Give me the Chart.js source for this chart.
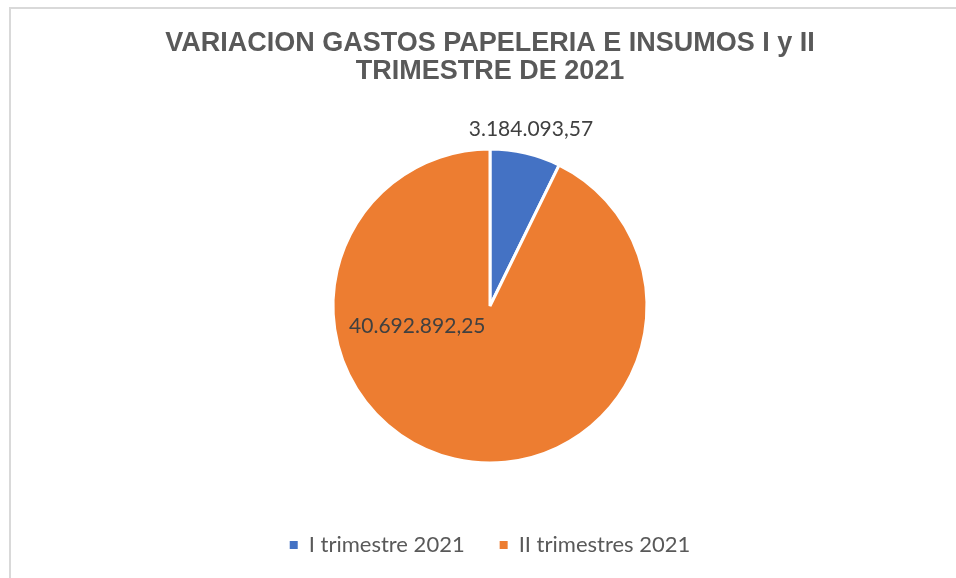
<!DOCTYPE html>
<html>
<head>
<meta charset="utf-8">
<title>Variacion gastos papeleria</title>
<script src="https://cdn.jsdelivr.net/npm/chart.js@4/dist/chart.umd.min.js"></script>
<style>
  body { margin: 0; overflow: hidden; background: #fff; }
  #marco {
    position: absolute; left: 9px; top: 7px; width: 1000px; height: 640px;
    border: 2px solid #d9d9d9; box-sizing: border-box;
  }
  #contenedor { position: absolute; left: 0; top: 0; width: 956px; height: 578px; }
</style>
</head>
<body>
<div id="marco"></div>
<div id="contenedor"><canvas id="GraphGastos"></canvas></div>
<script>
var titulo = ["VARIACION GASTOS PAPELERIA E INSUMOS I y II", "TRIMESTRE DE 2021"];
var trimestres = ["I trimestre 2021", "II trimestres 2021"];
var gastos = [3184093.57, 40692892.25];
var colores = ["#4472C4", "#ED7D31"];

function formatoPesos(valor) {
  var partes = valor.toFixed(2).split(".");
  var entero = partes[0].replace(/\B(?=(\d{3})+(?!\d))/g, ".");
  return entero + "," + partes[1];
}

// etiquetas de datos como las de excel
var etiquetasPlugin = {
  id: "etiquetas",
  afterDatasetsDraw: function (chart) {
    var ctx = chart.ctx;
    var meta = chart.getDatasetMeta(0);
    ctx.save();
    ctx.font = "21px Lato";
    ctx.fillStyle = "#404040";
    ctx.textAlign = "center";
    ctx.textBaseline = "middle";
    meta.data.forEach(function (arco, i) {
      var p = arco.getProps(["x", "y", "startAngle", "endAngle", "outerRadius"], true);
      var medio = (p.startAngle + p.endAngle) / 2;
      var x, y;
      if (p.endAngle - p.startAngle < Math.PI / 4) {
        // fuera del pie
        x = p.x + (p.outerRadius + 24) * Math.cos(medio);
        y = p.y + (p.outerRadius + 24) * Math.sin(medio);
      } else {
        // dentro del pie, ajuste "best fit"
        x = p.x + 0.48 * p.outerRadius * Math.cos(2.875);
        y = p.y + 0.48 * p.outerRadius * Math.sin(2.875);
      }
      ctx.fillText(formatoPesos(gastos[i]), x, y);
    });
    ctx.restore();
  },
};

const ctx = document.getElementById("GraphGastos");

window.graphGastos = new Chart(ctx, {
  type: "pie",
  data: {
    labels: trimestres,
    datasets: [
      {
        label: "Gastos",
        data: gastos,
        backgroundColor: colores,
        borderColor: "#ffffff",
        borderWidth: 3,
        radius: 157,
      },
    ],
  },
  options: {
    responsive: true,
    maintainAspectRatio: false,
    animation: false,
    layout: { padding: { top: 22, left: 24, right: 0, bottom: 12 } },
    plugins: {
      tooltip: { enabled: false },
      title: {
        display: true,
        text: titulo,
        color: "#595959",
        font: { family: "Liberation Sans", size: 27, weight: "bold", lineHeight: 1.037 },
        padding: { top: 8, bottom: 27 },
      },
      legend: {
        position: "bottom",
        labels: {
          color: "#595959",
          font: { family: "Lato", size: 22 },
          boxWidth: 8,
          boxHeight: 8,
          padding: 35,
          // cuadros sin el borde blanco de las porciones
          generateLabels: function (chart) {
            var items = Chart.controllers.pie.overrides.plugins.legend.labels.generateLabels(chart);
            items.forEach(function (item) {
              item.lineWidth = 0;
            });
            return items;
          },
        },
      },
    },
  },
  plugins: [etiquetasPlugin],
});
</script>
</body>
</html>
